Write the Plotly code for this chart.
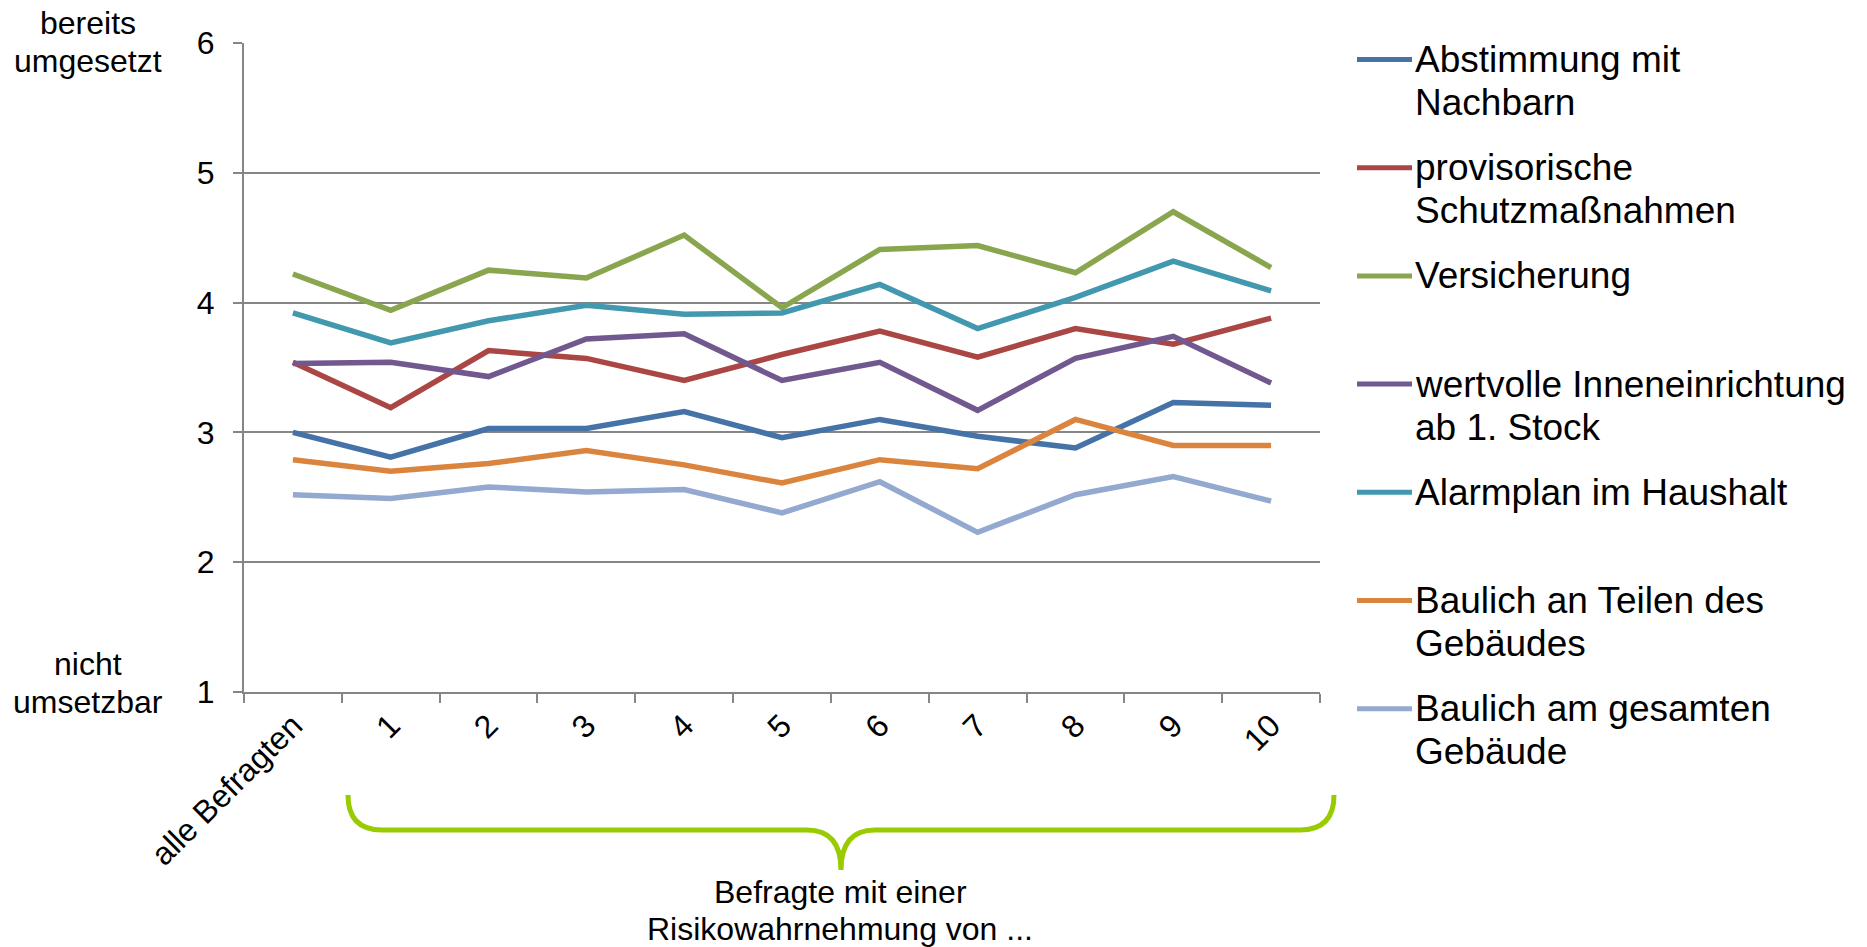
import plotly.graph_objects as go

categories = ["alle Befragten", "1", "2", "3", "4", "5", "6", "7", "8", "9", "10"]

abstimmung = [3.00, 2.81, 3.03, 3.03, 3.16, 2.96, 3.10, 2.97, 2.88, 3.23, 3.21]
provisorisch = [3.54, 3.19, 3.63, 3.57, 3.40, 3.60, 3.78, 3.58, 3.80, 3.68, 3.88]
versicherung = [4.22, 3.94, 4.25, 4.19, 4.52, 3.96, 4.41, 4.44, 4.23, 4.70, 4.27]
wertvolle = [3.53, 3.54, 3.43, 3.72, 3.76, 3.40, 3.54, 3.17, 3.57, 3.74, 3.38]
alarmplan = [3.92, 3.69, 3.86, 3.98, 3.91, 3.92, 4.14, 3.80, 4.04, 4.32, 4.09]
baulich_teile = [2.79, 2.70, 2.76, 2.86, 2.75, 2.61, 2.79, 2.72, 3.10, 2.90, 2.90]
baulich_gesamt = [2.52, 2.49, 2.58, 2.54, 2.56, 2.38, 2.62, 2.23, 2.52, 2.66, 2.47]

series_names = [
    ["Abstimmung mit", "Nachbarn"],
    ["provisorische", "Schutzmaßnahmen"],
    ["Versicherung"],
    ["wertvolle Inneneinrichtung", "ab 1. Stock"],
    ["Alarmplan im Haushalt"],
    ["Baulich an Teilen des", "Gebäudes"],
    ["Baulich am gesamten", "Gebäude"],
]
series_values = [abstimmung, provisorisch, versicherung, wertvolle, alarmplan, baulich_teile, baulich_gesamt]
series_colors = ["#4572A7", "#AA4643", "#89A54E", "#71588F", "#4198AF", "#DB843D", "#93A9CF"]

top_label = ["bereits", "umgesetzt"]
bottom_label = ["nicht", "umsetzbar"]
group_label = ["Befragte mit einer", "Risikowahrnehmung von ..."]

FONT = "Liberation Sans, Arial, sans-serif"
W, H = 1867, 947
L, R, T, B = 244, 1320, 43, 692
PW, PH = R - L, B - T


def px(x):
    return (x - L) / PW


def py(y):
    return (B - y) / PH


fig = go.Figure()
for name, vals, col in zip(series_names, series_values, series_colors):
    fig.add_trace(go.Scatter(
        x=categories, y=vals, mode="lines", name=" ".join(name),
        line=dict(color=col, width=5.5),
        showlegend=False,
    ))

# legend drawn as shapes + text (equal spacing like the original)
leg_y0, leg_step, line_gap = 59.5, 108.2, 43
leg_x0, leg_x1, leg_tx = 1357, 1412, 1413
for i, (name, col) in enumerate(zip(series_names, series_colors)):
    yc = leg_y0 + i * leg_step
    fig.add_shape(type="line", xref="paper", yref="paper",
                  x0=px(leg_x0), x1=px(leg_x1), y0=py(yc), y1=py(yc),
                  line=dict(color=col, width=5))
    for j, txt in enumerate(name):
        fig.add_annotation(text=txt, x=px(leg_tx), y=py(yc + j * line_gap),
                           xref="paper", yref="paper", showarrow=False,
                           xanchor="left", yanchor="middle",
                           font=dict(family=FONT, size=37, color="#000000"))

# brace below the axis
bx0, bx1, bxc = 348, 1334, 841
by_top, by_h, by_tip, r = 795, 830, 870, 34
pts = [
    ("M", bx0, by_top),
    ("Q", bx0, by_h, bx0 + r, by_h),
    ("L", bxc - r, by_h),
    ("Q", bxc, by_h, bxc, by_tip),
    ("Q", bxc, by_h, bxc + r, by_h),
    ("L", bx1 - r, by_h),
    ("Q", bx1, by_h, bx1, by_top),
]
path = ""
for p in pts:
    cmd = p[0]
    coords = p[1:]
    s = " ".join(f"{px(coords[k]):.5f},{py(coords[k+1]):.5f}" for k in range(0, len(coords), 2))
    path += f"{cmd} {s} "

fig.add_shape(type="path", path=path.strip(), xref="paper", yref="paper",
              line=dict(color="#99CC00", width=5))

ann_font = dict(family=FONT, size=32, color="#000000")


def add_lines(lines, xc, y_first, gap=38):
    for k, txt in enumerate(lines):
        fig.add_annotation(text=txt, x=px(xc), y=py(y_first + k * gap),
                           xref="paper", yref="paper", showarrow=False,
                           xanchor="center", yanchor="middle", font=ann_font)


add_lines(top_label, 88, 23)
add_lines(bottom_label, 88, 664)
add_lines(group_label, 840, 892, 37)

fig.update_layout(
    width=W, height=H,
    margin=dict(l=L, r=W - R, t=T, b=H - B, pad=0),
    paper_bgcolor="white", plot_bgcolor="white",
    font=dict(family=FONT, size=32, color="#000000"),
    showlegend=False,
    xaxis=dict(
        type="category", range=[-0.5, 10.5],
        showline=True, linecolor="#868686", linewidth=2,
        ticks="outside", tickson="boundaries", ticklen=9, tickcolor="#868686", tickwidth=2,
        tickangle=-45, showgrid=False, tickfont=dict(family=FONT, size=32),
        zeroline=False,
    ),
    yaxis=dict(
        range=[1, 6], dtick=1, tick0=1,
        showline=True, linecolor="#868686", linewidth=2,
        ticks="outside", ticklen=9, tickcolor="#868686", tickwidth=2,
        showgrid=True, gridcolor="#868686", gridwidth=2,
        zeroline=False, tickfont=dict(family=FONT, size=32),
        ticklabelstandoff=12,
    ),
)

fig.write_html("out.html")
